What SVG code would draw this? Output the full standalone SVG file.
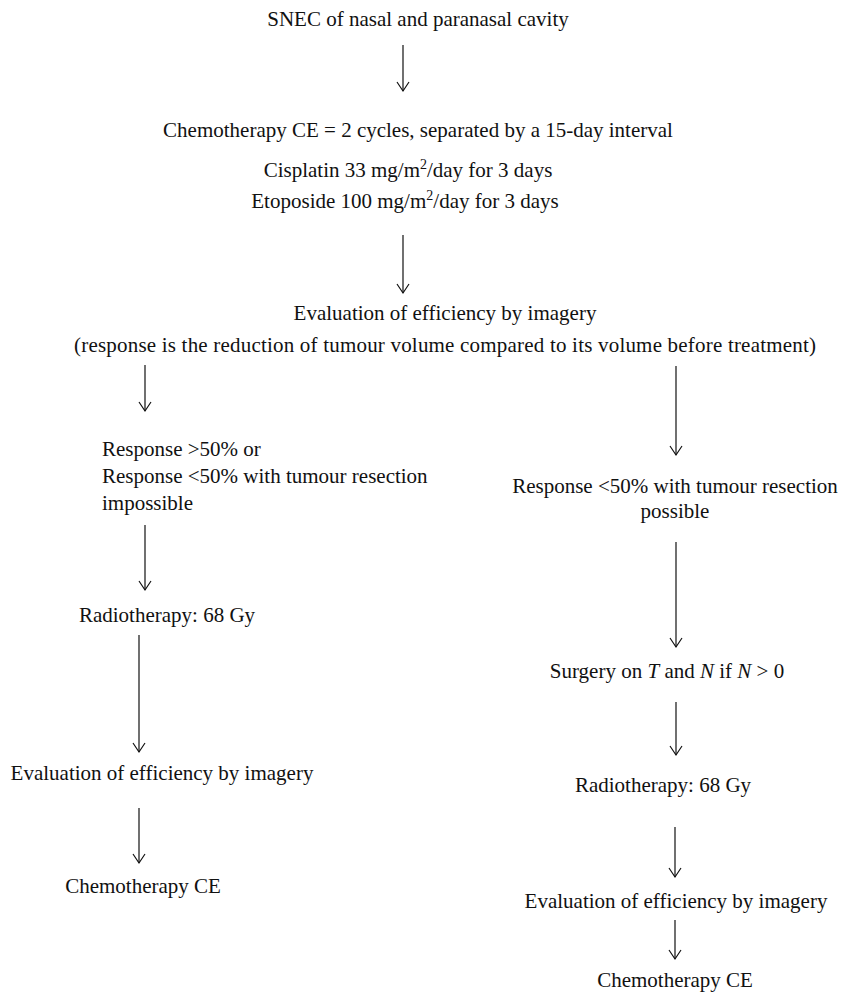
<svg xmlns="http://www.w3.org/2000/svg" width="842" height="993" viewBox="0 0 842 993">
<style>
text{font-family:"Liberation Serif","Times New Roman",serif;font-size:21px;fill:#111}
.c{text-anchor:middle}
.conn line{stroke:#111;stroke-width:1.2}
.conn path{fill:none;stroke:#111;stroke-width:1.2}
.sup{font-size:14px}
</style>
<rect width="842" height="993" fill="#fff"/>
<g id="n-snec"><text class="c" x="418" y="26">SNEC of nasal and paranasal cavity</text></g>
<g id="n-chemo">
<text class="c" x="418" y="137">Chemotherapy CE = 2 cycles, separated by a 15-day interval</text>
<text class="c" x="408" y="177">Cisplatin 33 mg/m<tspan class="sup" dy="-8">2</tspan><tspan dy="8">/day for 3 days</tspan></text>
<text class="c" x="405" y="208">Etoposide 100 mg/m<tspan class="sup" dy="-8">2</tspan><tspan dy="8">/day for 3 days</tspan></text>
</g>
<g id="n-eval1">
<text class="c" x="445" y="320">Evaluation of efficiency by imagery</text>
<text x="74" y="352" textLength="742" lengthAdjust="spacing">(response is the reduction of tumour volume compared to its volume before treatment)</text>
</g>
<g id="n-left-resp">
<text x="102" y="456">Response &gt;50% or</text>
<text x="102" y="483">Response &lt;50% with tumour resection</text>
<text x="102" y="510">impossible</text>
</g>
<g id="n-right-resp">
<text class="c" x="675" y="493">Response &lt;50% with tumour resection</text>
<text class="c" x="675" y="518">possible</text>
</g>
<g id="n-left-radio"><text class="c" x="167" y="622">Radiotherapy: 68 Gy</text></g>
<g id="n-left-eval"><text class="c" x="162" y="780">Evaluation of efficiency by imagery</text></g>
<g id="n-left-chemo"><text class="c" x="143" y="893">Chemotherapy CE</text></g>
<g id="n-surgery"><text class="c" x="667" y="678">Surgery on <tspan font-style="italic">T</tspan> and <tspan font-style="italic">N</tspan> if <tspan font-style="italic">N</tspan> &gt; 0</text></g>
<g id="n-right-radio"><text class="c" x="663" y="792">Radiotherapy: 68 Gy</text></g>
<g id="n-right-eval"><text class="c" x="676" y="908">Evaluation of efficiency by imagery</text></g>
<g id="n-right-chemo"><text class="c" x="675" y="987">Chemotherapy CE</text></g>
<g id="connectors" class="conn">
<line x1="403" y1="45" x2="403" y2="91"/><path d="M397,82 L403,91 L409,82"/>
<line x1="403" y1="235" x2="403" y2="293"/><path d="M397,284 L403,293 L409,284"/>
<line x1="145" y1="365" x2="145" y2="411"/><path d="M139,402 L145,411 L151,402"/>
<line x1="676" y1="366" x2="676" y2="455"/><path d="M670,446 L676,455 L682,446"/>
<line x1="145" y1="525" x2="145" y2="590"/><path d="M139,581 L145,590 L151,581"/>
<line x1="676" y1="542" x2="676" y2="647"/><path d="M670,638 L676,647 L682,638"/>
<line x1="139" y1="635" x2="139" y2="752"/><path d="M133,743 L139,752 L145,743"/>
<line x1="139" y1="808" x2="139" y2="863"/><path d="M133,854 L139,863 L145,854"/>
<line x1="676" y1="702" x2="676" y2="755"/><path d="M670,746 L676,755 L682,746"/>
<line x1="675" y1="827" x2="675" y2="877"/><path d="M669,868 L675,877 L681,868"/>
<line x1="675" y1="920" x2="675" y2="959"/><path d="M669,950 L675,959 L681,950"/>
</g>
</svg>
